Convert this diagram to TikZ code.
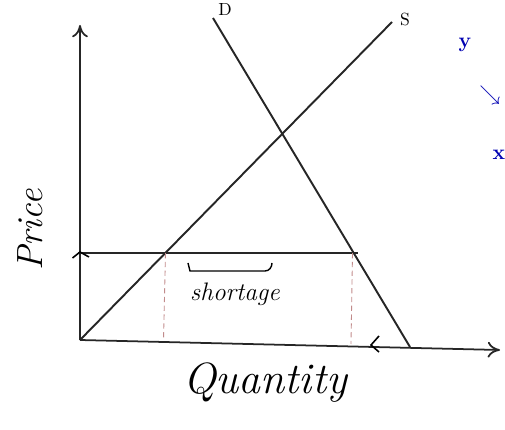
\documentclass[tikz,border=0pt]{standalone}
\usepackage{amsmath,amssymb}
\usepackage{tikz}
\usetikzlibrary{arrows,arrows.meta}

\begin{document}
\begin{tikzpicture}[
lbl/.style={font=\Large\itshape},
curve/.style={line width=1.1pt,draw=black!85},
axis/.style={-{To[length=7pt,width=9pt]},line width=1pt,draw=black!85},
guide/.style={densely dashed,line width=0.5pt,draw=red!30!gray!70},
scrib/.style={text=blue!70!black,font=\large\bfseries} ]

\useasboundingbox (0,0) rectangle (10.1,8.6);

% axes
\coordinate (O) at (1.6,1.8);
\coordinate (Ytop) at (1.6,8.1);
\coordinate (Xend) at (10.0,1.6);
\draw[axis] (O) -- (Ytop);
\draw[axis] (O) -- (Xend);

% supply and demand
\coordinate (S0) at (1.6,1.8);
\coordinate (S1) at (7.84,8.16);
\coordinate (D0) at (4.26,8.24);
\coordinate (D1) at (8.2,1.66);
\draw[curve] (S0) -- (S1);
\draw[curve] (D0) -- (D1);
\node[lbl,font=\normalsize](S) at (8.1,8.2) {S};
\node[lbl,font=\normalsize](D) at (4.5,8.4) {D};

% price ceiling
\coordinate (Pc) at (1.56,3.54);
\coordinate (Qs) at (3.31,3.54);
\coordinate (Qd) at (7.16,3.54);
\draw[curve] (Pc) -- (Qd);
\draw[line width=0.9pt] (1.45,3.44) -- (1.6,3.56) -- (1.78,3.46);
\draw[guide] (Qs) -- (3.27,1.79);
\draw[guide] (7.05,3.54) -- (7.02,1.72);
\draw[line width=0.9pt] (7.58,1.88) -- (7.42,1.7) -- (7.58,1.56);

% shortage
\draw[line width=0.8pt] (3.76,3.34) -- (3.8,3.18) -- (5.3,3.18) to[out=0,in=-90] (5.44,3.34);
\node[font=\Large\itshape](short) at (4.7,2.72) {shortage};

% axis labels
\node[lbl,font=\huge\itshape,rotate=90](price) at (0.6,4.0) {Price};
\node[lbl,font=\Huge\itshape](qty) at (5.3,0.95) {Quantity};

% cut-off marks at the edge
\node[scrib](m1) at (9.3,7.7) {y};
\node[scrib](m2) at (9.8,6.7) {$\searrow$};
\node[scrib](m3) at (9.98,5.5) {x};
\end{tikzpicture}
\end{document}
